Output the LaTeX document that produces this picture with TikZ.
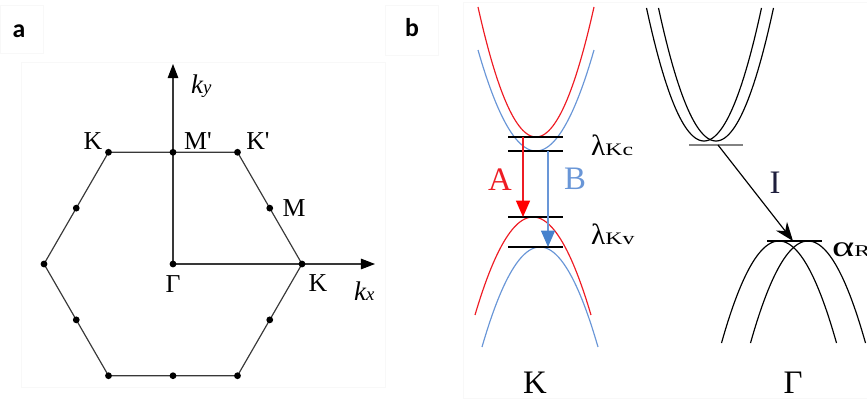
\documentclass[tikz,border=0pt]{standalone}
\usepackage{fontspec}
\setmainfont{Liberation Serif}
\newfontfamily\panelfont{Carlito}
\usetikzlibrary{arrows.meta,calc}
\definecolor{bandred}{RGB}{238,28,36}
\definecolor{bandblue}{RGB}{105,150,215}
\definecolor{headblue}{RGB}{70,130,205}
\definecolor{framegray}{RGB}{248,248,248}
\definecolor{levelgray}{RGB}{130,130,130}
\definecolor{inkblue}{RGB}{30,30,60}
\begin{document}
\begin{tikzpicture}[x=0.03cm,y=-0.03cm,
  hexline/.style={line width=1pt,draw=black!78},
  bzdot/.style={circle,fill=black,inner sep=0pt,minimum size=5.8pt},
  albl/.style={font=\fontsize{22}{24}\selectfont,inner sep=0pt,anchor=base},
  blbl/.style={font=\fontsize{28}{30}\selectfont,inner sep=0pt,anchor=base},
  plbl/.style={font=\panelfont\bfseries\fontsize{22}{24}\selectfont,inner sep=0pt,anchor=base},
  band/.style={line width=1pt},
  level/.style={line width=1.2pt,draw=black},
  frame/.style={draw=framegray,line width=0.6pt},
  axisarrow/.style={line width=1pt,draw=black!78,-{Triangle[length=12pt,width=9pt,color=black]}},
]
\useasboundingbox (0,0) rectangle (867,403);
% faint frames
\draw[frame] (0,5) rectangle (43,53);
\draw[frame] (385,5) rectangle (438,55);
\draw[frame] (21,62) rectangle (385,387);
\draw[frame] (463,2) rectangle (870,398);
% panel labels
\node[plbl] (pa) at (19,38) {a};
\node[plbl] (pb) at (412,37) {b};

% ---------- panel a ----------
\coordinate (G) at (173,264);
\foreach \i/\a in {0/0,1/60,2/120,3/180,4/240,5/300}
  \coordinate (h\i) at ({173+129*cos(\a)},{264-129*sin(\a)});
\foreach \i/\j in {0/1,1/2,2/3,3/4,4/5,5/0}
  \coordinate (m\i\j) at ($(h\i)!0.5!(h\j)$);
\draw[hexline] (h0)--(h1)--(h2)--(h3)--(h4)--(h5)--cycle;
\coordinate (kyend) at (173,64);
\coordinate (kxend) at (375,264);
\draw[axisarrow] (G) -- (kyend);
\draw[axisarrow] (G) -- (kxend);
\foreach \p in {h0,h1,h2,h3,h4,h5,m01,m12,m23,m34,m45,m50,G}
  \node[bzdot] (d\p) at (\p) {};
\node[albl] (lK1) at (93,150) {K};
\node[albl] (lMp) at (198,150) {M\textquotesingle};
\node[albl] (lKp) at (258,150) {K\textquotesingle};
\node[albl] (lM) at (294,217) {M};
\node[albl] (lG) at (173,293) {Γ};
\node[albl] (lK2) at (318,292) {K};
\node[inner sep=0pt,anchor=base west] (lky) at (191,94) {\fontsize{23}{24}\selectfont\itshape k\fontsize{16}{16}\selectfont y};
\node[inner sep=0pt,anchor=base west] (lkx) at (354,301) {\fontsize{23}{24}\selectfont\itshape k\fontsize{16}{16}\selectfont x};

% ---------- panel b : K valley ----------
\draw[band,bandred] plot[domain=-58:58,samples=60] ({536+\x},{137-0.03865*\x*\x});
\draw[band,bandblue] plot[domain=-58:58,samples=60] ({536+\x},{151-0.03002*\x*\x});
\draw[band,bandred] plot[domain=-58:58,samples=60] ({533+\x},{217+0.02913*\x*\x});
\draw[band,bandblue] plot[domain=-58:58,samples=60] ({540+\x},{247+0.02973*\x*\x});
\coordinate (c1l) at (508,137); \coordinate (c1r) at (563,137);
\coordinate (c2l) at (508,151); \coordinate (c2r) at (563,151);
\coordinate (v1l) at (508,217); \coordinate (v1r) at (563,217);
\coordinate (v2l) at (508,247); \coordinate (v2r) at (563,247);
\draw[level] (c1l) -- (c1r);
\draw[level] (c2l) -- (c2r);
\draw[level] (v1l) -- (v1r);
\draw[level] (v2l) -- (v2r);
\coordinate (Atop) at (523,137); \coordinate (Abot) at (523,217);
\coordinate (Btop) at (548,151); \coordinate (Bbot) at (548,247);
\draw[line width=1.1pt,bandred,-{Triangle[length=14pt,width=12pt,color=red]}] (Atop) -- (Abot);
\draw[line width=0.9pt,bandblue,-{Triangle[length=14pt,width=12pt,color=headblue]}] (Btop) -- (Bbot);
\node[blbl,text=bandred] (lA) at (500,191) {A};
\node[blbl,text=bandblue] (lB) at (575,190) {B};
\node[inner sep=0pt,anchor=base west] (lKc) at (591,156) {\fontsize{25}{26}\selectfont λ\scalebox{1.35}[1]{\fontsize{15}{16}\selectfont Kc}};
\node[inner sep=0pt,anchor=base west] (lKv) at (591,245) {\fontsize{25}{26}\selectfont λ\scalebox{1.35}[1]{\fontsize{15}{16}\selectfont Kv}};
\node[blbl] (lKbot) at (535,393) {K};

% ---------- panel b : Gamma ----------
\draw[band,black] plot[domain=-57.5:57.5,samples=60] ({704+\x},{141-0.04023*\x*\x});
\draw[band,black] plot[domain=-57.5:57.5,samples=60] ({716+\x},{141-0.04023*\x*\x});
\coordinate (g1l) at (689,145); \coordinate (g1r) at (743,145);
\draw[line width=1.3pt,levelgray] (g1l) -- (g1r);
\draw[band,black] plot[domain=-57.5:57.5,samples=60] ({779+\x},{241+0.03085*\x*\x});
\draw[band,black] plot[domain=-57.5:57.5,samples=60] ({808+\x},{241+0.03085*\x*\x});
\coordinate (g2l) at (767,241); \coordinate (g2r) at (822,241);
\draw[level] (g2l) -- (g2r);
\coordinate (Itop) at (718,145); \coordinate (Ibot) at (793,241);
\draw[line width=1pt,black,-{Stealth[length=16pt,width=12pt]}] (Itop) -- (Ibot);
\node[blbl,text=inkblue] (lI) at (775,194) {I};
\node[inner sep=0pt,anchor=base west] (laR) at (832,257) {\scalebox{1.45}[1]{\fontsize{25}{26}\selectfont α\fontsize{14}{16}\selectfont R}};
\node[blbl] (lGbot) at (793,393) {Γ};
\end{tikzpicture}
\end{document}
